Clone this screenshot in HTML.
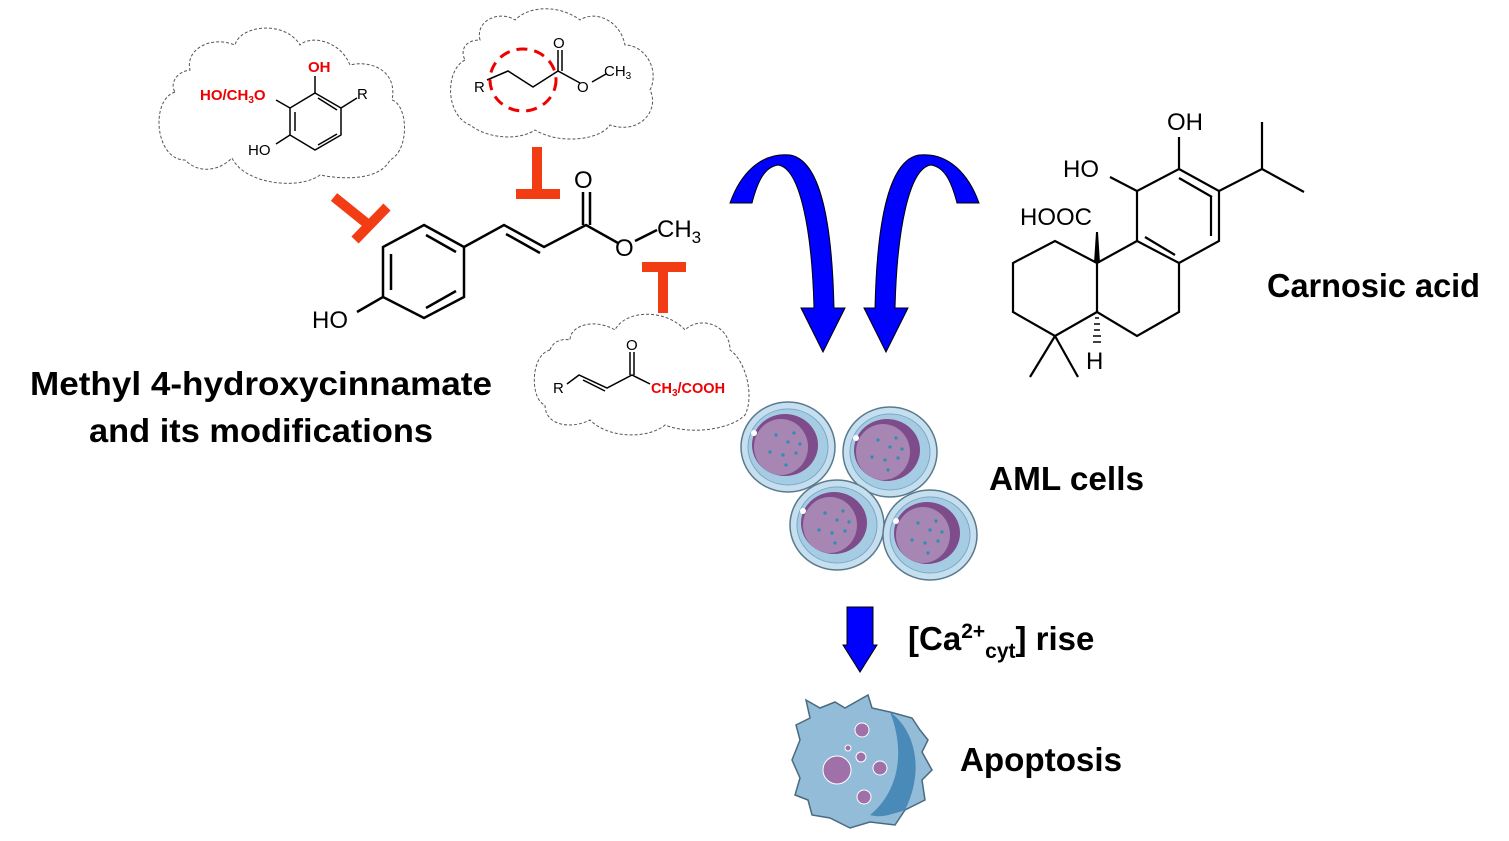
<!DOCTYPE html>
<html><head><meta charset="utf-8"><style>
html,body{margin:0;padding:0;background:#fff;}
svg{display:block;}
.b{font-family:"Liberation Sans",sans-serif;font-weight:bold;fill:#000;}
.c{font-family:"Liberation Sans",sans-serif;fill:#000;}
</style></head><body>
<svg width="1509" height="841" viewBox="0 0 1509 841" xmlns="http://www.w3.org/2000/svg">
<rect width="1509" height="841" fill="#fff"/>
<!-- clouds -->
<g fill="none" stroke="#555" stroke-width="1" stroke-dasharray="3,2">
<path d="M175,92 C150,100 155,160 185,160 C200,175 220,170 232,158 C245,185 300,190 320,175 C345,180 380,180 390,160 C410,150 408,105 392,100 C398,70 370,60 350,65 C340,40 310,35 300,45 C285,20 240,25 235,45 C210,35 185,50 190,70 C175,72 170,85 175,92 Z"/>
<path d="M465,60 C445,70 445,115 470,125 C490,140 520,140 535,130 C560,145 600,140 610,125 C640,135 660,110 650,90 C660,70 645,45 625,45 C620,20 595,10 580,20 C560,5 530,5 515,20 C500,10 475,20 480,40 C465,40 460,50 465,60 Z"/>
<path d="M550,350 C530,355 530,400 545,405 C545,425 570,430 590,420 C610,440 650,438 665,425 C690,435 730,430 745,415 C755,395 745,360 730,350 C730,325 700,315 685,330 C665,308 625,310 615,330 C595,318 570,325 570,340 C560,338 552,343 550,350 Z"/>
</g>
<!-- cloud 1 molecule -->
<g stroke="#000" stroke-width="1.5" fill="none">
<polygon points="315,93 341,108 341,135 315,150 290,135 290,108"/>
<line x1="295" y1="112" x2="295" y2="131"/><line x1="318" y1="145" x2="337" y2="134"/><line x1="318" y1="98" x2="337" y2="110"/>
<line x1="315" y1="93" x2="315" y2="76"/><line x1="341" y1="108" x2="357" y2="98"/>
<line x1="290" y1="108" x2="276" y2="100"/><line x1="290" y1="135" x2="276" y2="144"/>
</g>
<text x="308" y="72" class="b" font-size="15" style="fill:#e00">OH</text>
<text x="357" y="99" class="c" font-size="15">R</text>
<text x="200" y="100" class="b" font-size="15" style="fill:#e00">HO/CH<tspan font-size="10" dy="3">3</tspan><tspan dy="-3">O</tspan></text>
<text x="248" y="155" class="c" font-size="15">HO</text>
<!-- cloud 2 -->
<g stroke="#000" stroke-width="1.5" fill="none">
<polyline points="487,80 508,71 533,87 558,71 580,83"/>
<line x1="558" y1="71" x2="558" y2="50"/><line x1="562" y1="71" x2="562" y2="50"/>
<line x1="592" y1="82" x2="606" y2="74"/>
</g>
<ellipse cx="523" cy="80" rx="33" ry="31" fill="none" stroke="#e00" stroke-width="3" stroke-dasharray="11,7"/>
<text x="474" y="92" class="c" font-size="15">R</text>
<text x="553" y="48" class="c" font-size="15">O</text>
<text x="577" y="92" class="c" font-size="15">O</text>
<text x="604" y="76" class="c" font-size="15">CH<tspan font-size="10" dy="3">3</tspan></text>
<!-- cloud 3 -->
<g stroke="#000" stroke-width="1.5" fill="none">
<polyline points="567,384 579,375 607,388 632,375 650,384"/>
<line x1="583" y1="380" x2="605" y2="391"/>
<line x1="630" y1="375" x2="630" y2="352"/><line x1="634" y1="375" x2="634" y2="352"/>
</g>
<text x="553" y="393" class="c" font-size="15">R</text>
<text x="626" y="350" class="c" font-size="15">O</text>
<text x="651" y="393" class="b" font-size="14.5" style="fill:#e00">CH<tspan font-size="10" dy="3">3</tspan><tspan dy="-3">/COOH</tspan></text>
<!-- main molecule -->
<g stroke="#000" stroke-width="2.5" fill="none">
<polygon points="424,225 464,247 464,297 424,318 383,297 383,247"/>
<line x1="391" y1="254" x2="391" y2="290"/><line x1="426" y1="235" x2="456" y2="252"/><line x1="426" y1="308" x2="456" y2="291"/>
<line x1="383" y1="297" x2="357" y2="312"/>
<polyline points="464,247 504,225 544,247 586,225 618,243"/>
<line x1="506" y1="234" x2="540" y2="253"/>
<line x1="583" y1="225" x2="583" y2="192"/><line x1="590" y1="225" x2="590" y2="192"/>
<line x1="635" y1="241" x2="657" y2="230"/>
</g>
<text x="312" y="328" class="c" font-size="24">HO</text>
<text x="574" y="188" class="c" font-size="24">O</text>
<text x="615" y="256" class="c" font-size="24">O</text>
<text x="657" y="237" class="c" font-size="24">CH<tspan font-size="17" dy="6">3</tspan></text>
<!-- inhibition Ts -->
<g stroke="#f23c14" stroke-width="10" fill="none">
<line x1="334" y1="197" x2="370" y2="226"/><line x1="355" y1="240" x2="387" y2="207"/>
<line x1="537" y1="147" x2="537" y2="193"/><line x1="516" y1="194" x2="560" y2="194"/>
<line x1="642" y1="267" x2="686" y2="267"/><line x1="663" y1="267" x2="663" y2="313"/>
</g>
<text x="30" y="395" class="b" font-size="33" textLength="462" lengthAdjust="spacingAndGlyphs">Methyl 4-hydroxycinnamate</text>
<text x="89" y="442" class="b" font-size="33" textLength="344" lengthAdjust="spacingAndGlyphs">and its modifications</text>
<!-- blue arrows -->
<g fill="#0000ff" stroke="#000" stroke-width="1">
<path d="M730,203 L752,203 C758,180 765,167 778,165 C800,168 812,230 814,308 L801,308 L823,352 L845,308 L834,308 C832,220 820,160 790,155 C760,152 740,175 730,203 Z"/>
<path d="M979,203 L957,203 C951,180 944,167 931,165 C909,168 897,230 895,308 L908,308 L886,352 L864,308 L875,308 C877,220 889,160 919,155 C949,152 969,175 979,203 Z"/>
</g>
<!-- carnosic acid -->
<g stroke="#000" stroke-width="2.2" fill="none">
<polygon points="1179,169 1219,191 1219,241 1179,263 1137,241 1137,191"/>
<line x1="1179" y1="178" x2="1212" y2="197"/><line x1="1211" y1="196" x2="1211" y2="236"/><line x1="1145" y1="237" x2="1175" y2="255"/>
<line x1="1179" y1="169" x2="1179" y2="137"/>
<line x1="1137" y1="191" x2="1110" y2="177"/>
<polyline points="1219,191 1262,169 1262,122"/><line x1="1262" y1="169" x2="1304" y2="192"/>
<polyline points="1137,241 1097,263 1097,312 1137,336 1179,312 1179,263"/>
<polyline points="1097,263 1055,241 1013,263 1013,312 1055,336 1097,312"/>
<line x1="1055" y1="336" x2="1030" y2="377"/><line x1="1055" y1="336" x2="1078" y2="377"/>
</g>
<polygon points="1094,263 1100,263 1098,232 1096,232" fill="#000"/>
<g stroke="#000" stroke-width="1.5"><line x1="1095" y1="318" x2="1099" y2="318"/><line x1="1094" y1="324" x2="1100" y2="324"/><line x1="1094" y1="330" x2="1100" y2="330"/><line x1="1093" y1="336" x2="1101" y2="336"/><line x1="1093" y1="342" x2="1101" y2="342"/></g>
<text x="1167" y="130" class="c" font-size="24">OH</text>
<text x="1063" y="177" class="c" font-size="24">HO</text>
<text x="1020" y="225" class="c" font-size="24">HOOC</text>
<text x="1086" y="369" class="c" font-size="24">H</text>
<text x="1267" y="297" class="b" font-size="33" textLength="213" lengthAdjust="spacingAndGlyphs">Carnosic acid</text>
<!-- AML cells -->
<defs>
<g id="cell">
<ellipse cx="0" cy="0" rx="47" ry="45" fill="#c6dfee" stroke="#5a7a90" stroke-width="1.5"/>
<ellipse cx="0" cy="0" rx="40" ry="38" fill="#a6cce4" stroke="#7aa8c8" stroke-width="1"/>
<ellipse cx="-3" cy="-2" rx="33" ry="31" fill="#7e4c8a"/>
<ellipse cx="-7" cy="0" rx="27" ry="28" fill="#a786b3"/>
<g fill="#2a8fb0"><circle cx="-12" cy="-12" r="1.6"/><circle cx="0" cy="-5" r="1.6"/><circle cx="-5" cy="8" r="1.6"/><circle cx="6" cy="-14" r="1.6"/><circle cx="-18" cy="5" r="1.6"/><circle cx="8" cy="6" r="1.6"/><circle cx="-2" cy="18" r="1.6"/><circle cx="12" cy="-3" r="1.6"/></g>
<circle cx="-34" cy="-14" r="3" fill="#fff"/>
</g>
</defs>
<use href="#cell" x="788" y="447"/>
<use href="#cell" x="890" y="452"/>
<use href="#cell" x="837" y="525"/>
<use href="#cell" x="930" y="535"/>
<text x="989" y="490" class="b" font-size="33" textLength="155" lengthAdjust="spacingAndGlyphs">AML cells</text>
<!-- small arrow -->
<polygon points="847,607 873,607 873,645 877,645 860,672 843,645 847,645" fill="#0000ff" stroke="#000" stroke-width="1"/>
<text x="908" y="650" class="b" font-size="33">[Ca<tspan font-size="21" dy="-12">2+</tspan><tspan font-size="21" dy="20">cyt</tspan><tspan dy="-8">] rise</tspan></text>
<!-- apoptosis cell -->
<path d="M806,700 L820,708 L835,702 L845,708 L868,695 L872,708 L890,712 L912,718 L920,730 L928,740 L922,752 L932,770 L922,780 L925,800 L905,810 L895,825 L870,822 L850,828 L830,818 L812,815 L808,800 L795,795 L800,778 L792,760 L800,740 L796,725 L810,718 Z" fill="#92bcd8" stroke="#4a6a80" stroke-width="1.5"/>
<path d="M890,712 C915,730 925,770 905,810 C890,815 880,818 870,815 C900,790 905,750 890,712 Z" fill="#4a8ab8"/>
<g fill="#a070a8" stroke="#fff" stroke-width="1"><circle cx="837" cy="770" r="14"/><circle cx="862" cy="730" r="7"/><circle cx="861" cy="757" r="5"/><circle cx="880" cy="768" r="7"/><circle cx="864" cy="797" r="7"/><circle cx="848" cy="748" r="3"/></g>
<text x="960" y="771" class="b" font-size="33" textLength="162" lengthAdjust="spacingAndGlyphs">Apoptosis</text>
</svg>
</body></html>
